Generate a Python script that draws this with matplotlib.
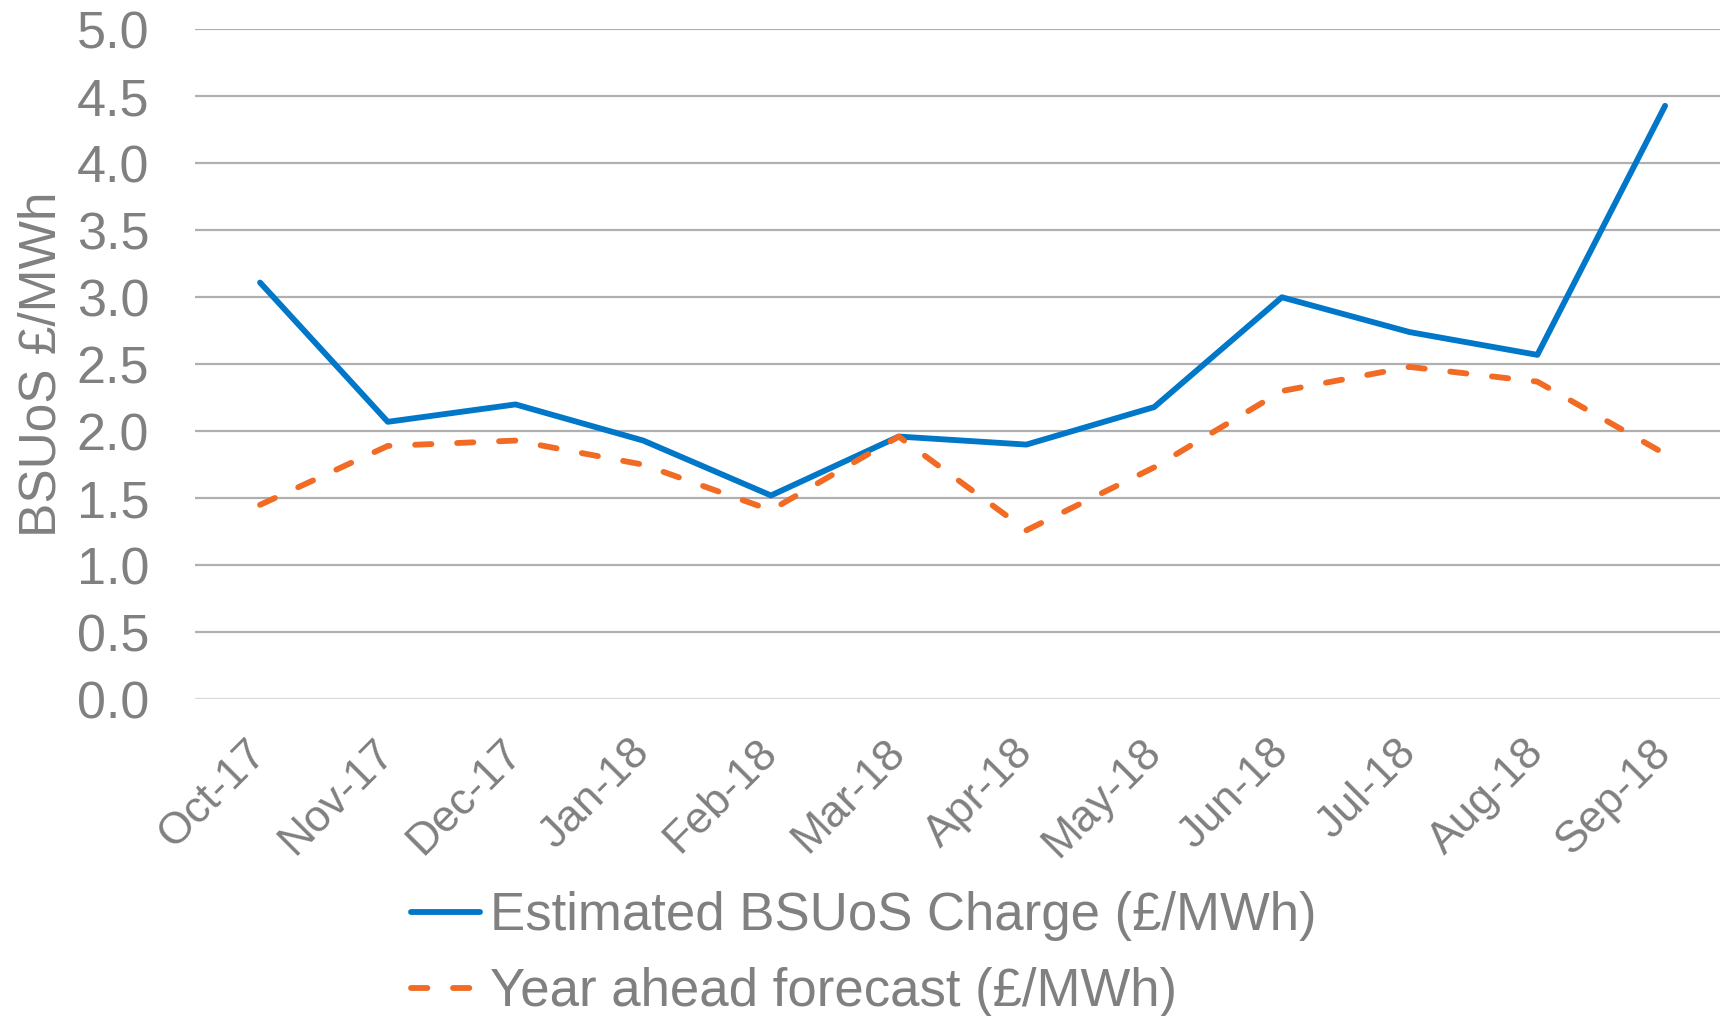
import matplotlib.pyplot as plt
import numpy as np

plt.rcParams['font.family'] = ['Liberation Sans', 'DejaVu Sans']

months = ['Oct-17', 'Nov-17', 'Dec-17', 'Jan-18', 'Feb-18', 'Mar-18',
          'Apr-18', 'May-18', 'Jun-18', 'Jul-18', 'Aug-18', 'Sep-18']
estimated = [3.11, 2.07, 2.20, 1.93, 1.52, 1.96, 1.90, 2.18, 3.00, 2.74, 2.57, 4.43]
forecast = [1.45, 1.89, 1.93, 1.75, 1.41, 1.96, 1.26, 1.73, 2.30, 2.48, 2.37, 1.83]

grey = '#808080'
x = np.arange(len(months))

fig = plt.figure(figsize=(17.2, 10.16), dpi=100)
ax = fig.add_axes([0.1134, 0.312, 0.8866, 0.659])

ax.plot(x, estimated, color='#0077C8', linewidth=4.2, solid_capstyle='round',
        label='Estimated BSUoS Charge (£/MWh)')
ax.plot(x, forecast, color='#F26B24', linewidth=4.2, dashes=(2.8, 4.4),
        dash_capstyle='round', label='Year ahead forecast (£/MWh)')

ax.set_xlim(-0.509, 11.43)
ax.set_ylim(0, 5)
ax.set_yticks(np.arange(0, 5.01, 0.5))
ax.set_yticklabels(['{:.1f}'.format(v) for v in np.arange(0, 5.01, 0.5)])
ax.set_xticks(x)
ax.set_xticklabels(months, rotation=45, ha='right', va='center', rotation_mode='anchor')

ax.grid(axis='y', color='#b0b0b0', linewidth=1.6)
ax.set_axisbelow(True)
for s in ax.spines.values():
    s.set_visible(False)
ax.tick_params(axis='y', length=0, pad=33, labelsize=37.5, labelcolor=grey)
ax.tick_params(axis='x', length=0, pad=34, labelsize=32, labelcolor=grey)
# bottom gridline is lighter
ax.get_ygridlines()[0].set_color('#d9d9d9')

ax.set_ylabel('BSUoS £/MWh', fontsize=37, color=grey)
ax.yaxis.set_label_coords(-0.084, 0.5)

leg = fig.legend(loc='upper left', bbox_to_anchor=(0.239, 0.123), frameon=False,
                 fontsize=38, labelcolor=grey, handlelength=1.3, handletextpad=0.2,
                 labelspacing=0.5, borderaxespad=0, borderpad=0)

fig.savefig('out.png', dpi=100)
